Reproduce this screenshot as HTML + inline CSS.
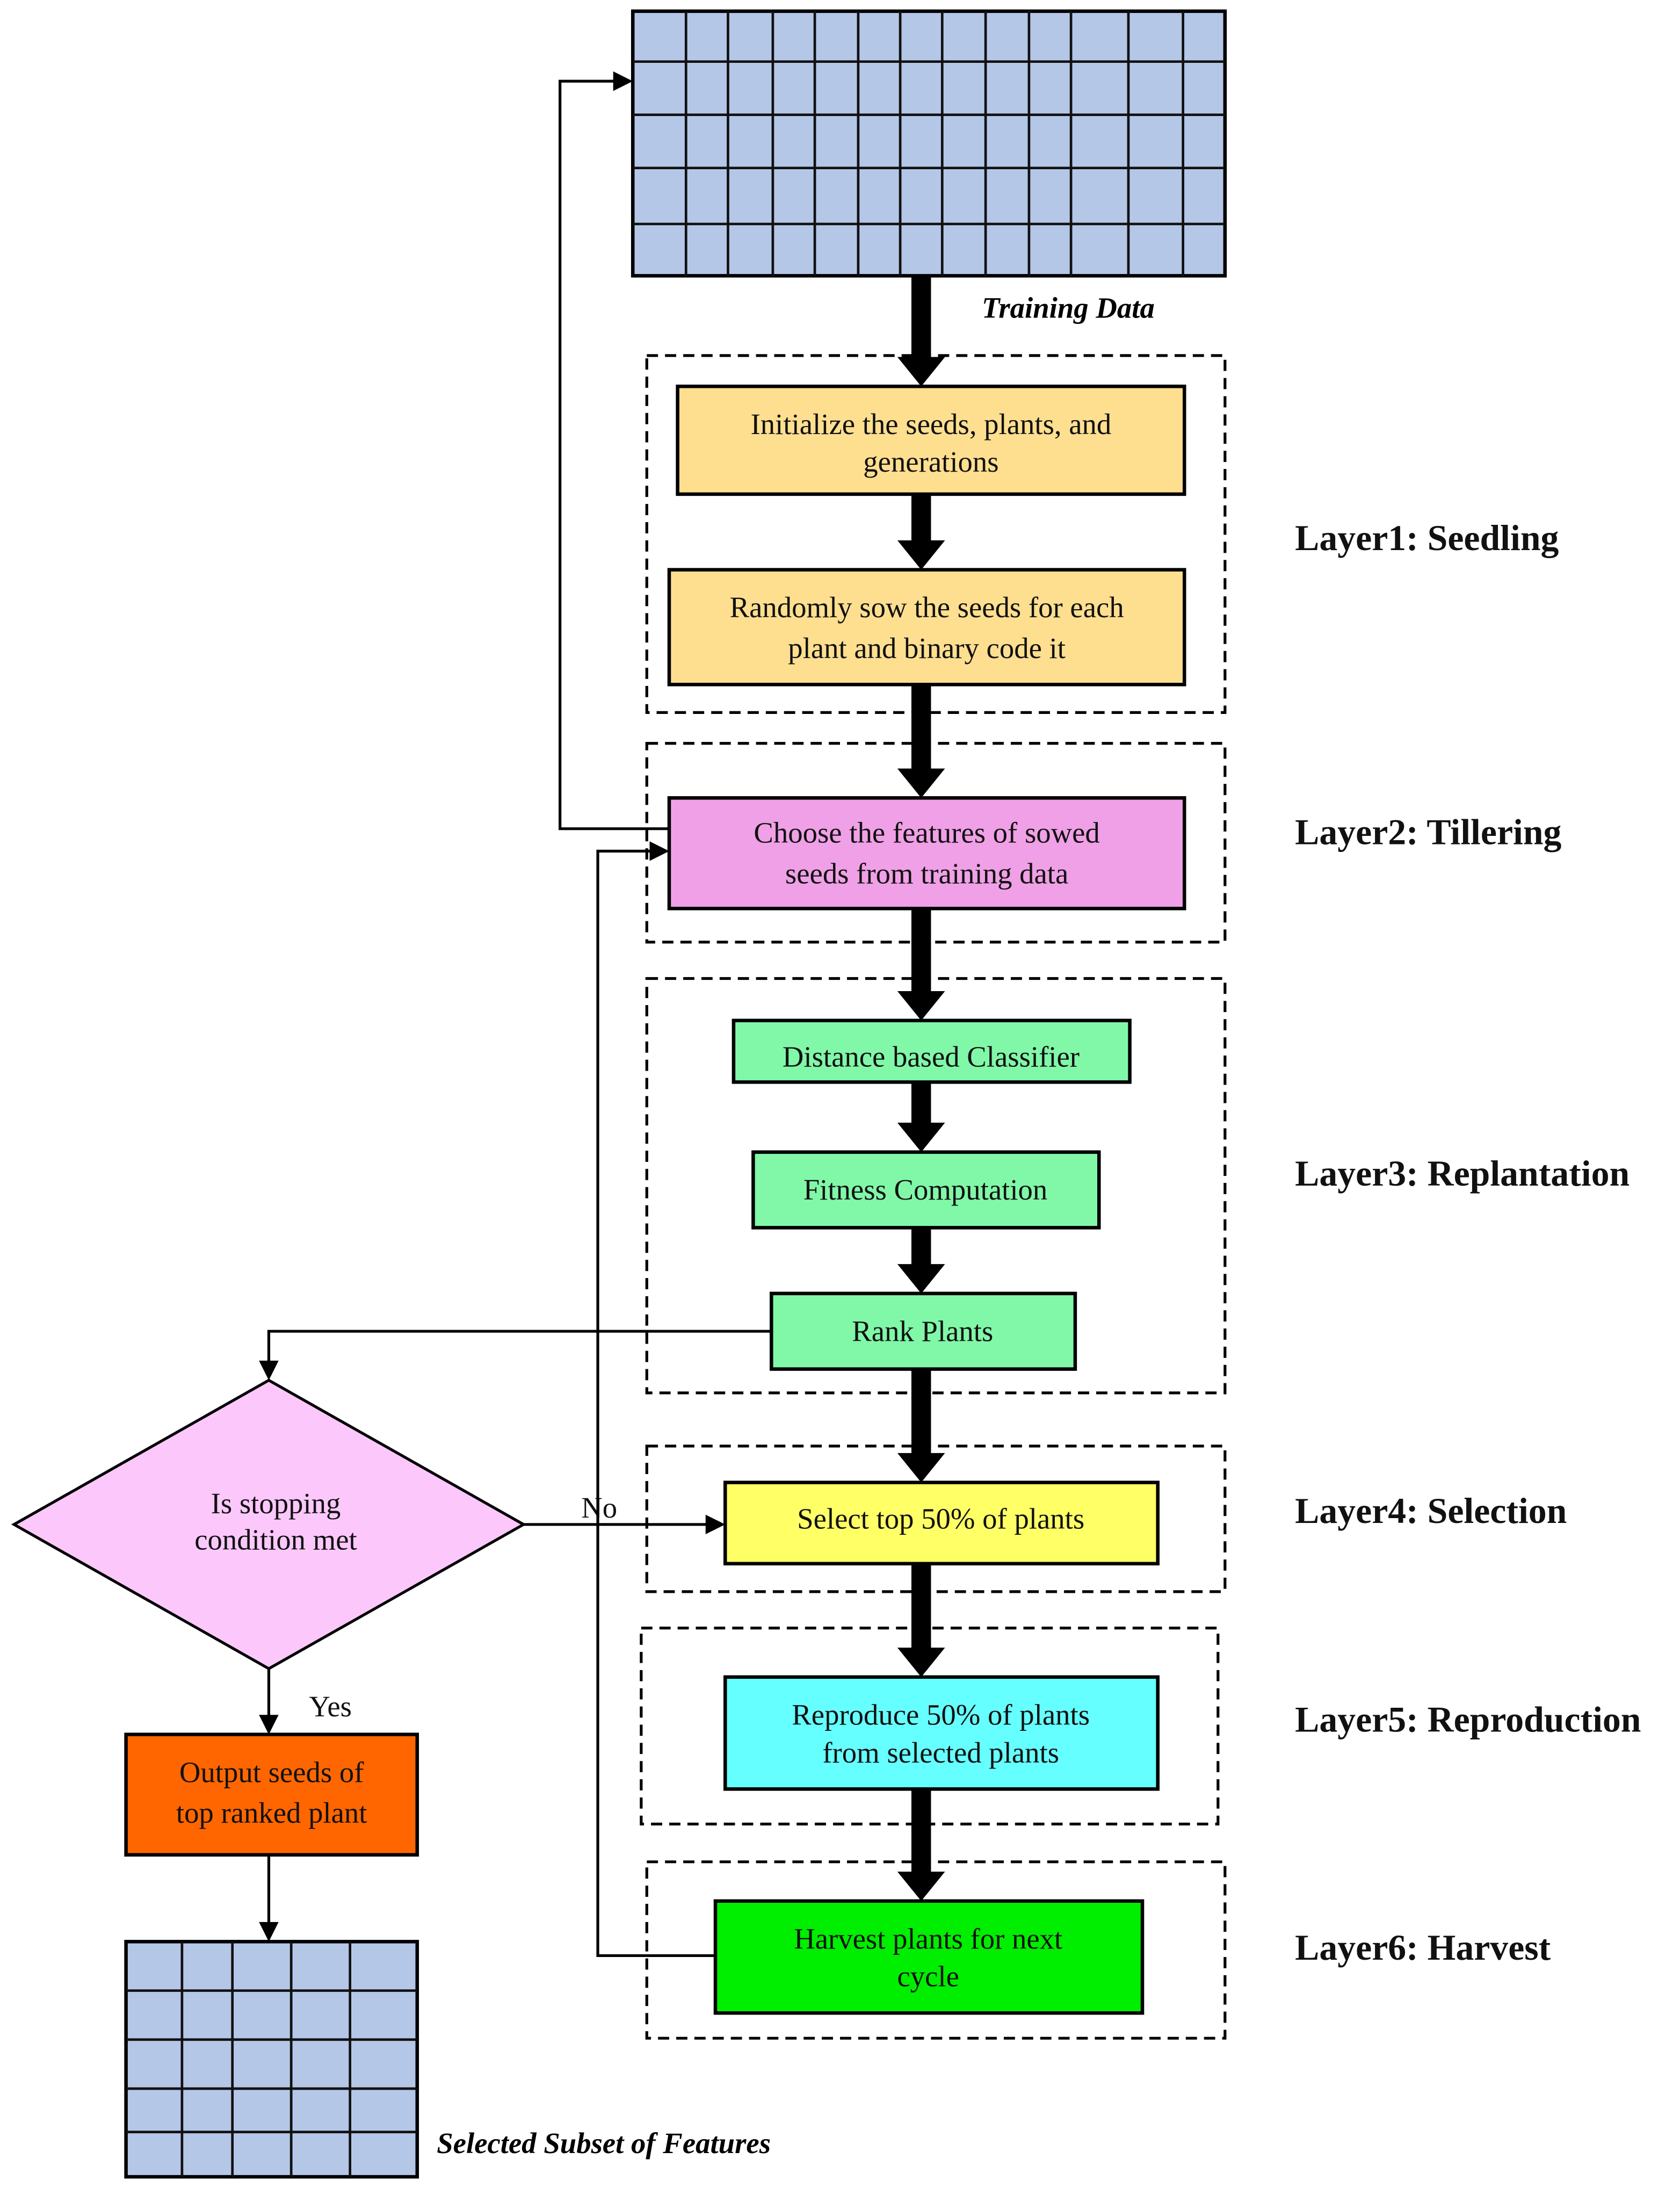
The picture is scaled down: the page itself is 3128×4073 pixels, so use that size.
<!DOCTYPE html>
<html><head><meta charset="utf-8"><style>html,body{margin:0;padding:0;background:#fff}svg{display:block}</style></head>
<body>
<svg width="3128" height="4073" viewBox="0 0 1200 1563" preserveAspectRatio="none" xmlns="http://www.w3.org/2000/svg" font-family="Liberation Serif, serif">
<defs>
<marker id="a" markerWidth="10" markerHeight="10" refX="9" refY="5" orient="auto" markerUnits="userSpaceOnUse"><path d="M0,0 L10,5 L0,10 z" fill="#000" transform="scale(1.4) translate(-3,-1.5)"/></marker>
</defs>
<!-- top grid -->
<rect x="452" y="8" width="423" height="189" fill="#b4c7e7" stroke="#000" stroke-width="2.5"/>
<g stroke="#111" stroke-width="1.8">
<line x1="490" y1="8" x2="490" y2="197"/><line x1="520" y1="8" x2="520" y2="197"/><line x1="552" y1="8" x2="552" y2="197"/><line x1="582" y1="8" x2="582" y2="197"/><line x1="613" y1="8" x2="613" y2="197"/><line x1="643" y1="8" x2="643" y2="197"/><line x1="673" y1="8" x2="673" y2="197"/><line x1="704" y1="8" x2="704" y2="197"/><line x1="735" y1="8" x2="735" y2="197"/><line x1="765" y1="8" x2="765" y2="197"/><line x1="806" y1="8" x2="806" y2="197"/><line x1="845" y1="8" x2="845" y2="197"/>
<line x1="452" y1="44" x2="875" y2="44"/><line x1="452" y1="82" x2="875" y2="82"/><line x1="452" y1="120" x2="875" y2="120"/><line x1="452" y1="160" x2="875" y2="160"/>
</g>
<text x="763" y="227" font-size="21" font-weight="bold" font-style="italic" text-anchor="middle">Training Data</text>
<!-- dashed layers -->
<g fill="none" stroke="#000" stroke-width="2" stroke-dasharray="8,5">
<rect x="462" y="254" width="413" height="255"/>
<rect x="462" y="531" width="413" height="142"/>
<rect x="462" y="699" width="413" height="296"/>
<rect x="462" y="1033" width="413" height="104"/>
<rect x="458" y="1163" width="412" height="140"/>
<rect x="462" y="1330" width="413" height="126"/>
</g>
<!-- thick arrows -->
<g fill="#000">
<rect x="651" y="197" width="14" height="60"/><path d="M641,255 L675,255 L658,276 z"/>
<rect x="651" y="353" width="14" height="35"/><path d="M641,386 L675,386 L658,407 z"/>
<rect x="651" y="489" width="14" height="62"/><path d="M641,549 L675,549 L658,570 z"/>
<rect x="651" y="649" width="14" height="61"/><path d="M641,708 L675,708 L658,729 z"/>
<rect x="651" y="773" width="14" height="31"/><path d="M641,802 L675,802 L658,823 z"/>
<rect x="651" y="877" width="14" height="28"/><path d="M641,903 L675,903 L658,924 z"/>
<rect x="651" y="978" width="14" height="62"/><path d="M641,1038 L675,1038 L658,1059 z"/>
<rect x="651" y="1117" width="14" height="62"/><path d="M641,1177 L675,1177 L658,1198 z"/>
<rect x="651" y="1278" width="14" height="61"/><path d="M641,1337 L675,1337 L658,1358 z"/>
</g>
<!-- boxes -->
<g stroke="#000" stroke-width="2.5">
<rect x="484" y="276" width="362" height="77" fill="#fedf90"/>
<rect x="478" y="407" width="368" height="82" fill="#fedf90"/>
<rect x="478" y="570" width="368" height="79" fill="#f0a0e6"/>
<rect x="524" y="729" width="283" height="44" fill="#80f8a8"/>
<rect x="538" y="823" width="247" height="54" fill="#80f8a8"/>
<rect x="551" y="924" width="217" height="54" fill="#80f8a8"/>
<rect x="518" y="1059" width="309" height="58" fill="#ffff66"/>
<rect x="518" y="1198" width="309" height="80" fill="#66ffff"/>
<rect x="511" y="1358" width="305" height="80" fill="#00ee00"/>
<rect x="90" y="1239" width="208" height="86" fill="#ff6600"/>
<path d="M10,1089 L192,986 L374,1089 L192,1192 z" fill="#fcc8fc" stroke-width="2"/>
</g>
<g font-size="21" text-anchor="middle" fill="#111">
<text x="665" y="310">Initialize the seeds, plants, and</text><text x="665" y="337">generations</text>
<text x="662" y="441">Randomly sow the seeds for each</text><text x="662" y="470">plant and binary code it</text>
<text x="662" y="602">Choose the features of sowed</text><text x="662" y="631">seeds from training data</text>
<text x="665" y="762">Distance based Classifier</text>
<text x="661" y="857">Fitness Computation</text>
<text x="659" y="958">Rank Plants</text>
<text x="672" y="1092">Select top 50% of plants</text>
<text x="672" y="1232">Reproduce 50% of plants</text><text x="672" y="1259">from selected plants</text>
<text x="663" y="1392">Harvest plants for next</text><text x="663" y="1419">cycle</text>
<text x="194" y="1273">Output seeds of</text><text x="194" y="1302">top ranked plant</text>
<text x="197" y="1081">Is stopping</text><text x="197" y="1107">condition met</text>
<text x="428" y="1084">No</text>
<text x="236" y="1226">Yes</text>
</g>
<!-- thin connectors -->
<g fill="none" stroke="#000" stroke-width="2">
<path d="M478,592 L400,592 L400,58 L440,58"/>
<path d="M511,1397 L427,1397 L427,608 L466,608"/>
<path d="M551,951 L192,951 L192,974"/>
<path d="M374,1089 L506,1089"/>
<path d="M192,1192 L192,1227"/>
<path d="M192,1325 L192,1375"/>
</g>
<g fill="#000">
<path d="M438,51 L452,58 L438,65 z"/>
<path d="M464,601 L478,608 L464,615 z"/>
<path d="M185,972 L192,986 L199,972 z"/>
<path d="M504,1082 L518,1089 L504,1096 z"/>
<path d="M185,1225 L192,1239 L199,1225 z"/>
<path d="M185,1373 L192,1387 L199,1373 z"/>
</g>
<!-- bottom grid -->
<rect x="90" y="1387" width="208" height="168" fill="#b4c7e7" stroke="#000" stroke-width="2.5"/>
<g stroke="#111" stroke-width="1.8">
<line x1="130" y1="1387" x2="130" y2="1555"/><line x1="166" y1="1387" x2="166" y2="1555"/><line x1="208" y1="1387" x2="208" y2="1555"/><line x1="250" y1="1387" x2="250" y2="1555"/>
<line x1="90" y1="1422" x2="298" y2="1422"/><line x1="90" y1="1457" x2="298" y2="1457"/><line x1="90" y1="1492" x2="298" y2="1492"/><line x1="90" y1="1523" x2="298" y2="1523"/>
</g>
<text x="312" y="1538" font-size="21" font-weight="bold" font-style="italic">Selected Subset of Features</text>
<!-- layer labels -->
<g font-size="26" font-weight="bold" fill="#111">
<text x="925" y="393">Layer1: Seedling</text>
<text x="925" y="603">Layer2: Tillering</text>
<text x="925" y="847">Layer3: Replantation</text>
<text x="925" y="1088">Layer4: Selection</text>
<text x="925" y="1237">Layer5: Reproduction</text>
<text x="925" y="1400">Layer6: Harvest</text>
</g>
</svg>
</body></html>
